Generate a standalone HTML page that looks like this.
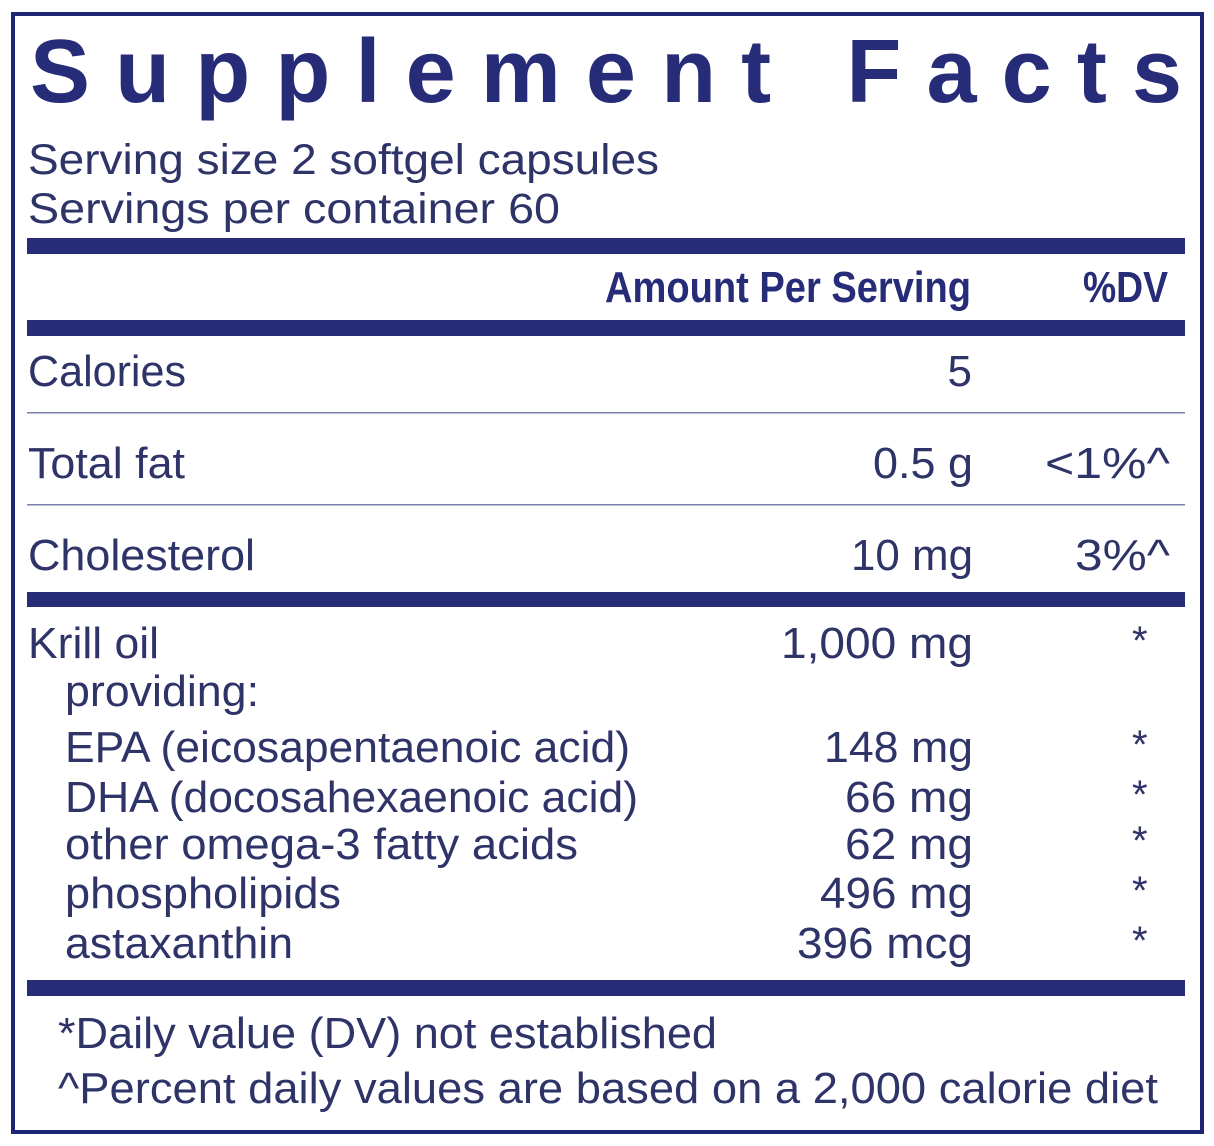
<!DOCTYPE html>
<html><head><meta charset="utf-8"><style>
html,body{margin:0;padding:0;background:#fff;}
svg{display:block;}
text{font-family:"Liberation Sans",sans-serif;fill:#262c78;}
.b{fill:#2e3368;}
</style></head><body>
<svg width="1214" height="1146" viewBox="0 0 1214 1146" xmlns="http://www.w3.org/2000/svg">
<rect x="13" y="14" width="1189" height="1118" fill="none" stroke="#1f2575" stroke-width="4"/>
<text x="30" y="102" font-size="90" font-weight="bold" textLength="1152" lengthAdjust="spacing">Supplement Facts</text>
<text class="b" x="28" y="174" font-size="43" textLength="631" lengthAdjust="spacingAndGlyphs">Serving size  2 softgel capsules</text>
<text class="b" x="28" y="223" font-size="43" textLength="532" lengthAdjust="spacingAndGlyphs">Servings per container  60</text>
<rect x="27" y="238" width="1158" height="16" fill="#262c78"/>
<text x="605" y="302" font-size="44" font-weight="bold" textLength="366" lengthAdjust="spacingAndGlyphs">Amount Per Serving</text>
<text x="1083" y="302" font-size="44" font-weight="bold" textLength="85" lengthAdjust="spacingAndGlyphs">%DV</text>
<rect x="27" y="320" width="1158" height="16" fill="#262c78"/>
<text class="b" x="28" y="386" font-size="44" textLength="158" lengthAdjust="spacingAndGlyphs">Calories</text>
<text class="b" x="972" y="386" font-size="44" text-anchor="end">5</text>
<rect x="27" y="412" width="1158" height="1.5" fill="#7a7ea8"/>
<text class="b" x="28" y="478" font-size="44" textLength="157" lengthAdjust="spacingAndGlyphs">Total fat</text>
<text class="b" x="873" y="478" font-size="44" textLength="100" lengthAdjust="spacingAndGlyphs">0.5 g</text>
<text class="b" x="1045" y="478" font-size="44" textLength="125" lengthAdjust="spacingAndGlyphs">&lt;1%^</text>
<rect x="27" y="504" width="1158" height="1.5" fill="#7a7ea8"/>
<text class="b" x="28" y="570" font-size="44" textLength="227" lengthAdjust="spacingAndGlyphs">Cholesterol</text>
<text class="b" x="851" y="570" font-size="44" textLength="122" lengthAdjust="spacingAndGlyphs">10 mg</text>
<text class="b" x="1075" y="570" font-size="44" textLength="95" lengthAdjust="spacingAndGlyphs">3%^</text>
<rect x="27" y="592" width="1158" height="15" fill="#262c78"/>
<text class="b" x="28" y="658" font-size="44" textLength="131" lengthAdjust="spacingAndGlyphs">Krill oil</text>
<text class="b" x="781" y="658" font-size="44" textLength="192" lengthAdjust="spacingAndGlyphs">1,000 mg</text>
<text class="b" x="65" y="706" font-size="44" textLength="194" lengthAdjust="spacingAndGlyphs">providing:</text>
<text class="b" x="65" y="762" font-size="44" textLength="565" lengthAdjust="spacingAndGlyphs">EPA (eicosapentaenoic acid)</text>
<text class="b" x="824" y="762" font-size="44" textLength="149" lengthAdjust="spacingAndGlyphs">148 mg</text>
<text class="b" x="65" y="812" font-size="44" textLength="573" lengthAdjust="spacingAndGlyphs">DHA (docosahexaenoic acid)</text>
<text class="b" x="845" y="812" font-size="44" textLength="128" lengthAdjust="spacingAndGlyphs">66 mg</text>
<text class="b" x="65" y="859" font-size="44" textLength="513" lengthAdjust="spacingAndGlyphs">other omega-3 fatty acids</text>
<text class="b" x="845" y="859" font-size="44" textLength="128" lengthAdjust="spacingAndGlyphs">62 mg</text>
<text class="b" x="65" y="908" font-size="44" textLength="276" lengthAdjust="spacingAndGlyphs">phospholipids</text>
<text class="b" x="820" y="908" font-size="44" textLength="153" lengthAdjust="spacingAndGlyphs">496 mg</text>
<text class="b" x="65" y="958" font-size="44" textLength="228" lengthAdjust="spacingAndGlyphs">astaxanthin</text>
<text class="b" x="797" y="958" font-size="44" textLength="176" lengthAdjust="spacingAndGlyphs">396 mcg</text>
<g font-size="40">
<text class="b" x="1132" y="654">*</text>
<text class="b" x="1132" y="758">*</text>
<text class="b" x="1132" y="808">*</text>
<text class="b" x="1132" y="854">*</text>
<text class="b" x="1132" y="904">*</text>
<text class="b" x="1132" y="954">*</text>
</g>
<rect x="27" y="980" width="1158" height="16" fill="#262c78"/>
<text class="b" x="58" y="1048" font-size="44" textLength="659" lengthAdjust="spacingAndGlyphs">*Daily value (DV) not established</text>
<text class="b" x="58" y="1103" font-size="44" textLength="1100" lengthAdjust="spacingAndGlyphs">^Percent daily values are based on a 2,000 calorie diet</text>
</svg>
</body></html>
